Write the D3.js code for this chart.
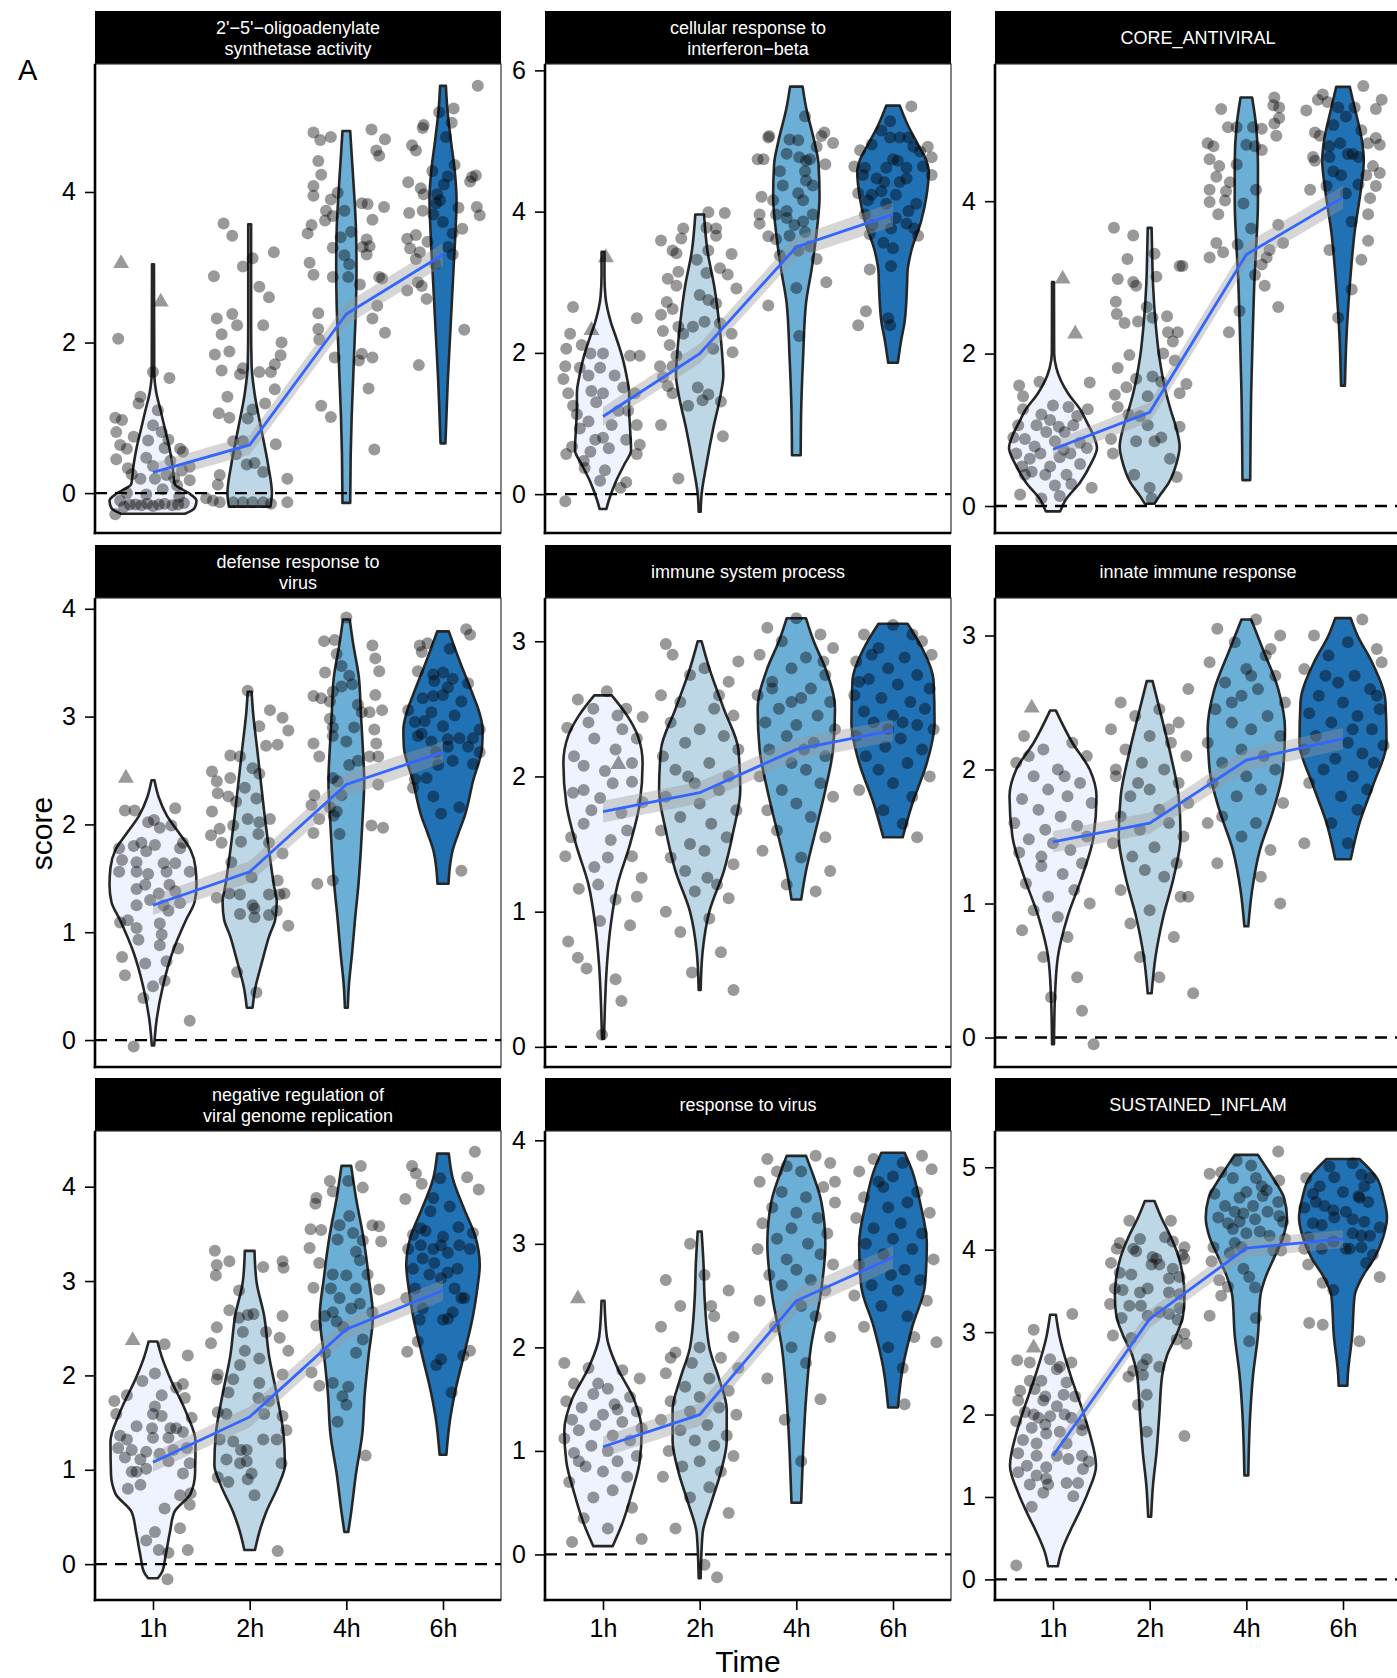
<!DOCTYPE html>
<html><head><meta charset="utf-8">
<script src="https://cdn.jsdelivr.net/npm/d3@7"></script>
<style>body{margin:0;background:#fff}text{font-family:"Liberation Sans",Arial,sans-serif}</style>
</head><body><svg id="c" width="1397" height="1678"></svg>
<script>
const timeLabels=["1h","2h","4h","6h"];
const fills=["#eff3ff","#bdd7e7","#6baed6","#2171b5"];
const titles=[["2'−5'−oligoadenylate","synthetase activity"],["cellular response to","interferon−beta"],["CORE_ANTIVIRAL"],["defense response to","virus"],["immune system process"],["innate immune response"],["negative regulation of","viral genome replication"],["response to virus"],["SUSTAINED_INFLAM"]];
const yDomains=[[-0.53,5.70],[-0.55,6.09],[-0.354,5.80],[-0.25,4.10],[-0.149,3.32],[-0.22,3.28],[-0.38,4.59],[-0.44,4.09],[-0.25,5.44]];
const yTicks=[[0,2,4],[0,2,4,6],[0,2,4],[0,1,2,3,4],[0,1,2,3],[0,1,2,3],[0,1,2,3,4],[0,1,2,3,4],[0,1,2,3,4,5]];
const means=[[0.275,0.64,2.38,3.17],[1.10,1.99,3.5,3.96],[0.745,1.23,3.3,4.05],[1.25,1.56,2.37,2.67],[1.74,1.88,2.2,2.34],[1.46,1.6,2.07,2.23],[1.08,1.56,2.49,2.9],[1.04,1.35,2.45,2.87],[1.5,3.16,4.02,4.13]];
const ses=[[0.12,0.13,0.15,0.15],[0.13,0.14,0.15,0.17],[0.11,0.13,0.15,0.15],[0.09,0.1,0.11,0.1],[0.08,0.08,0.08,0.08],[0.08,0.08,0.08,0.08],[0.1,0.11,0.11,0.11],[0.1,0.11,0.11,0.11],[0.11,0.11,0.11,0.11]];
const triangles=[[[-0.33,3.05],[0.08,2.54]],[[0.03,3.35],[-0.12,2.32]],[[0.1,2.98],[0.23,2.26]],[[-0.28,2.43]],[[0.16,2.09]],[[-0.22,2.46]],[[-0.21,2.37]],[[-0.26,2.47]],[[-0.2,2.81]]];

const violins_p1=[
[[-0.275,0.33],[-0.2,0.43],[-0.1,0.45],[0.0,0.37],[0.12,0.225],[0.38,0.2],[0.6,0.17],[0.85,0.124],[1.09,0.08],[1.33,0.035],[1.6,0.013],[3.04,0.01]],
[[-0.18,0.215],[0.0,0.23],[0.38,0.19],[0.85,0.12],[1.33,0.05],[1.7,0.02],[2.2,0.015],[3.57,0.015]],
[[-0.13,0.04],[0.5,0.045],[1.0,0.055],[1.5,0.07],[2.0,0.085],[2.5,0.1],[3.0,0.105],[3.5,0.1],[4.0,0.08],[4.5,0.055],[4.81,0.04]],
[[0.66,0.025],[1.0,0.035],[1.5,0.05],[2.0,0.07],[2.5,0.09],[3.0,0.11],[3.5,0.13],[3.9,0.14],[4.3,0.12],[4.7,0.08],[5.1,0.045],[5.41,0.03]]];
const points_p1=[
[[-0.36,2.05],[0.0,1.61],[0.17,1.53],[-0.13,1.28],[-0.15,1.19],[-0.39,1.0],[-0.32,0.97],[-0.38,0.81],[-0.34,0.64],[-0.27,0.59],[0.0,0.9],[0.09,0.81],[0.16,0.71],[0.28,0.59],[0.31,0.55],[0.18,0.43],[-0.38,0.45],[-0.26,0.33],[-0.07,0.47],[0.0,0.36],[0.14,0.24],[0.38,0.17],[-0.13,0.19],[0.02,0.19],[-0.27,0.0],[-0.07,-0.02],[0.1,0.05],[0.25,0.1],[-0.39,-0.28],[-0.3,-0.18],[-0.24,-0.15],[-0.18,-0.15],[-0.12,-0.16],[-0.06,-0.14],[0.0,-0.17],[0.06,-0.15],[0.12,-0.14],[0.2,-0.16],[0.26,-0.15],[0.32,-0.13],[-0.34,-0.1],[0.22,0.2],[0.3,0.3],[-0.2,0.75],[0.05,1.1],[0.12,0.6],[-0.05,0.7],[-0.22,0.25],[0.27,-0.05],[0.38,0.35]],
[[-0.27,3.58],[-0.18,3.42],[-0.07,3.01],[0.03,3.12],[0.25,3.2],[-0.37,2.88],[0.1,2.74],[0.2,2.6],[-0.18,2.38],[-0.34,2.32],[-0.13,2.23],[-0.29,2.11],[0.14,2.23],[0.33,2.0],[-0.21,1.88],[-0.36,1.84],[0.32,1.83],[0.26,1.71],[-0.07,1.66],[-0.29,1.63],[-0.1,1.58],[0.1,1.61],[0.22,1.61],[0.26,1.38],[-0.23,1.28],[0.16,1.19],[0.03,1.11],[-0.32,1.06],[-0.21,1.0],[-0.02,0.99],[-0.17,0.69],[-0.07,0.69],[0.27,0.65],[-0.14,0.52],[0.05,0.4],[-0.03,0.38],[0.14,0.28],[-0.31,0.24],[-0.33,0.11],[0.39,0.19],[-0.38,-0.1],[-0.31,-0.12],[-0.17,-0.12],[-0.07,-0.12],[0.03,-0.12],[0.14,-0.12],[0.22,-0.14],[0.39,-0.12],[-0.45,-0.07]],
[[-0.34,4.79],[-0.27,4.69],[-0.16,4.73],[0.26,4.83],[0.4,4.7],[0.31,4.55],[0.34,4.48],[-0.29,4.41],[-0.26,4.23],[-0.34,4.08],[-0.34,3.95],[-0.09,3.99],[-0.16,3.9],[0.16,3.85],[0.22,3.84],[0.39,3.8],[-0.21,3.75],[-0.14,3.68],[-0.22,3.62],[-0.02,3.75],[0.27,3.63],[-0.36,3.56],[-0.4,3.45],[-0.06,3.4],[0.05,3.47],[-0.14,3.26],[0.21,3.37],[0.17,3.27],[0.24,3.28],[0.21,3.17],[-0.02,3.16],[-0.38,3.06],[0.03,3.04],[-0.34,2.9],[-0.14,2.87],[0.02,2.87],[0.14,2.77],[0.34,2.87],[0.37,2.85],[-0.29,2.39],[0.32,2.49],[0.27,2.32],[-0.29,2.18],[0.4,2.13],[-0.28,2.04],[-0.12,1.8],[0.16,1.85],[0.13,1.76],[0.27,1.8],[0.23,1.39],[-0.26,1.16],[-0.16,1.01],[0.29,0.58]],
[[0.36,5.41],[0.11,5.11],[-0.04,5.06],[0.09,4.92],[-0.2,4.89],[-0.21,4.85],[0.03,4.73],[-0.32,4.62],[-0.28,4.55],[-0.11,4.28],[-0.36,4.13],[-0.23,4.05],[-0.2,3.97],[-0.06,3.97],[0.05,4.21],[0.01,4.1],[0.3,4.2],[0.34,4.22],[0.28,4.14],[-0.07,3.85],[-0.03,3.89],[-0.35,3.72],[-0.21,3.75],[0.16,3.79],[0.35,3.8],[0.38,3.69],[0.2,3.51],[0.1,3.45],[-0.37,3.38],[-0.28,3.43],[-0.16,3.34],[-0.24,3.2],[-0.34,3.25],[0.1,3.17],[-0.28,3.11],[-0.08,3.04],[-0.26,2.8],[-0.22,2.75],[-0.17,2.58],[-0.37,2.69],[0.22,2.17],[-0.25,1.7],[0.05,3.27],[0.0,3.6],[-0.1,3.7],[0.12,4.36]]];

const violins_p2=[
[[-0.21,0.035],[-0.09,0.06],[0.17,0.13],[0.42,0.22],[0.62,0.29],[0.93,0.28],[1.2,0.27],[1.43,0.27],[1.7,0.24],[1.94,0.2],[2.2,0.14],[2.44,0.08],[2.8,0.025],[3.1,0.015],[3.43,0.015]],
[[-0.25,0.01],[0.0,0.02],[0.42,0.07],[0.93,0.14],[1.43,0.22],[1.68,0.245],[1.94,0.235],[2.44,0.2],[2.95,0.15],[3.45,0.08],[3.96,0.045]],
[[0.55,0.045],[1.18,0.05],[1.94,0.07],[2.7,0.1],[3.2,0.16],[3.71,0.21],[4.21,0.24],[4.67,0.23],[4.97,0.19],[5.48,0.1],[5.77,0.065]],
[[1.86,0.05],[2.19,0.086],[2.44,0.12],[2.95,0.145],[3.15,0.15],[3.45,0.19],[3.86,0.29],[4.21,0.345],[4.57,0.37],[4.72,0.345],[4.97,0.25],[5.22,0.155],[5.5,0.07]]];
const points_p2=[
[[-0.31,2.65],[-0.34,2.27],[-0.38,2.06],[-0.22,2.11],[-0.13,1.99],[0.0,1.99],[0.35,2.49],[0.28,1.96],[0.38,1.96],[-0.39,1.81],[-0.24,1.79],[-0.03,1.79],[-0.15,1.68],[0.12,1.68],[-0.41,1.63],[-0.36,1.43],[-0.12,1.46],[0.0,1.43],[0.21,1.51],[0.33,1.43],[-0.31,1.25],[-0.07,1.3],[0.16,1.18],[0.26,1.18],[-0.27,1.13],[-0.24,0.93],[-0.08,0.77],[0.0,0.8],[0.24,0.77],[0.35,0.98],[-0.32,0.67],[-0.13,0.6],[0.06,0.65],[0.38,0.7],[-0.38,0.57],[-0.2,0.47],[0.35,0.57],[0.02,0.34],[-0.03,0.19],[0.24,0.17],[-0.39,-0.1],[0.18,0.09],[-0.19,0.37],[0.09,0.98],[-0.15,1.03]],
[[-0.4,3.59],[-0.28,3.45],[-0.17,3.76],[-0.19,3.62],[0.09,3.99],[0.26,3.98],[0.07,3.77],[0.17,3.76],[0.17,3.66],[-0.24,3.41],[0.33,3.4],[-0.03,3.32],[0.09,3.45],[-0.33,3.05],[-0.22,3.15],[0.07,3.13],[0.21,3.2],[0.29,3.11],[0.38,2.91],[-0.24,2.95],[-0.34,2.72],[0.0,2.82],[0.09,2.75],[0.17,2.7],[-0.4,2.54],[-0.28,2.62],[-0.22,2.37],[-0.07,2.37],[0.05,2.44],[0.21,2.42],[-0.38,2.31],[-0.17,2.27],[0.33,2.27],[-0.31,2.11],[-0.24,1.96],[0.14,2.06],[0.34,2.01],[-0.41,1.81],[-0.28,1.81],[-0.38,1.66],[-0.33,1.53],[-0.28,1.43],[-0.02,1.51],[0.09,1.41],[0.03,1.33],[0.22,1.31],[-0.12,1.25],[-0.4,0.98],[0.24,0.82],[-0.22,0.22]],
[[-0.28,5.07],[-0.29,5.05],[-0.07,5.02],[0.02,5.01],[0.09,5.35],[0.29,5.12],[0.26,5.07],[0.38,4.97],[-0.4,4.74],[-0.34,4.74],[-0.1,4.82],[0.03,4.77],[0.14,4.74],[0.21,4.92],[0.3,4.67],[0.09,4.57],[0.1,4.44],[0.17,4.37],[-0.14,4.37],[0.02,4.26],[0.07,4.16],[-0.36,4.21],[-0.21,3.96],[-0.1,3.91],[-0.38,3.96],[-0.38,3.83],[0.07,3.86],[0.17,3.96],[-0.02,3.81],[0.09,3.71],[-0.29,3.65],[-0.21,3.61],[-0.07,3.66],[0.02,3.45],[0.14,3.51],[-0.17,3.38],[0.21,3.33],[0.31,3.0],[0.0,2.92],[-0.29,2.67],[0.03,2.24],[-0.1,4.01],[0.1,4.72],[-0.17,4.57],[-0.24,4.16]],
[[0.19,5.49],[-0.03,5.28],[-0.12,5.15],[-0.03,5.05],[0.07,5.05],[0.16,5.05],[-0.34,4.87],[-0.22,4.95],[0.21,4.92],[0.28,4.85],[0.36,4.92],[0.4,4.77],[-0.4,4.64],[-0.29,4.62],[-0.07,4.62],[0.0,4.74],[0.05,4.72],[0.14,4.62],[0.31,4.64],[0.4,4.52],[-0.31,4.52],[-0.17,4.47],[-0.09,4.42],[0.07,4.42],[0.14,4.47],[-0.36,4.26],[-0.22,4.24],[-0.12,4.29],[0.03,4.24],[-0.26,4.16],[-0.07,4.11],[0.24,4.11],[0.16,4.01],[-0.29,3.96],[0.03,3.91],[-0.21,3.81],[0.14,3.83],[0.22,3.76],[0.26,3.66],[-0.24,3.68],[-0.02,3.76],[-0.1,3.56],[0.0,3.48],[-0.24,3.18],[-0.02,3.23],[-0.28,2.59],[-0.36,2.39],[-0.03,2.39],[-0.05,2.49]]];

const violins_p3=[
[[-0.07,0.075],[0.08,0.13],[0.31,0.28],[0.55,0.39],[0.76,0.455],[0.92,0.42],[1.1,0.35],[1.25,0.29],[1.48,0.155],[1.65,0.08],[1.81,0.035],[2.0,0.012],[2.94,0.01]],
[[0.03,0.05],[0.13,0.1],[0.31,0.2],[0.55,0.275],[0.78,0.31],[1.02,0.275],[1.25,0.22],[1.48,0.17],[1.95,0.1],[2.42,0.06],[2.9,0.035],[3.36,0.025],[3.65,0.02]],
[[0.34,0.04],[1.0,0.045],[1.48,0.05],[2.42,0.07],[3.0,0.085],[3.36,0.1],[4.0,0.12],[4.5,0.12],[5.0,0.1],[5.36,0.06]],
[[1.58,0.02],[2.19,0.035],[2.89,0.07],[3.59,0.12],[4.2,0.19],[4.53,0.215],[4.76,0.2],[5.23,0.12],[5.5,0.07]]];
const points_p3=[
[[-0.35,1.58],[-0.14,1.63],[0.38,1.62],[-0.31,1.44],[-0.31,1.27],[-0.12,1.2],[0.0,1.32],[0.16,1.3],[0.25,1.18],[0.36,1.27],[-0.36,1.06],[-0.17,1.06],[-0.07,0.97],[0.06,1.04],[0.21,1.06],[-0.41,0.9],[-0.29,0.88],[-0.19,0.78],[0.02,0.85],[0.11,0.74],[0.28,0.83],[0.35,0.76],[-0.38,0.69],[-0.13,0.69],[-0.03,0.52],[0.07,0.64],[0.18,0.69],[-0.32,0.52],[-0.22,0.45],[-0.08,0.41],[0.14,0.41],[0.19,0.29],[0.02,0.27],[0.4,0.24],[-0.34,0.15],[-0.12,0.1],[0.07,0.13],[-0.29,0.41],[0.28,0.55],[0.12,0.97],[-0.03,1.13],[-0.24,0.62]],
[[-0.37,3.65],[-0.17,3.55],[-0.23,3.24],[0.05,3.31],[-0.33,2.98],[-0.17,2.94],[-0.14,2.89],[0.07,3.01],[0.34,3.15],[0.31,3.15],[-0.35,2.68],[-0.03,2.61],[-0.34,2.52],[-0.26,2.4],[-0.12,2.42],[0.03,2.47],[0.18,2.49],[0.19,2.28],[0.29,2.28],[0.24,2.16],[-0.21,1.98],[0.14,2.0],[0.26,1.91],[-0.33,1.81],[-0.14,1.67],[0.03,1.7],[0.12,1.63],[0.38,1.6],[-0.36,1.46],[-0.24,1.56],[-0.02,1.44],[0.31,1.48],[-0.33,1.3],[-0.22,1.2],[-0.1,1.18],[-0.02,1.06],[0.31,1.04],[-0.4,0.88],[-0.14,0.85],[0.05,0.85],[0.12,0.9],[-0.38,0.69],[0.28,0.38],[-0.16,0.41],[0.0,0.24],[0.02,0.1],[0.21,0.62]],
[[-0.26,5.21],[0.29,5.36],[0.28,5.26],[0.34,5.23],[0.34,5.09],[-0.19,4.97],[-0.1,4.97],[0.07,4.97],[0.16,4.95],[0.29,5.02],[0.31,4.86],[-0.4,4.76],[-0.34,4.72],[0.0,4.74],[0.09,4.72],[0.16,4.67],[-0.38,4.55],[-0.28,4.46],[-0.1,4.48],[-0.31,4.32],[-0.17,4.25],[-0.38,4.15],[-0.21,4.13],[0.1,4.15],[-0.38,3.99],[-0.22,4.01],[-0.03,3.97],[-0.29,3.83],[0.05,3.64],[0.33,3.69],[-0.31,3.45],[-0.09,3.43],[0.38,3.45],[-0.24,3.33],[0.24,3.36],[-0.38,3.26],[0.16,3.17],[0.09,3.03],[0.19,2.89],[-0.07,2.56],[0.33,2.61],[-0.18,2.28],[0.21,3.26]],
[[0.21,5.51],[-0.21,5.4],[0.4,5.33],[-0.26,5.33],[-0.16,5.3],[0.12,5.23],[-0.38,5.19],[-0.05,5.23],[0.34,5.21],[0.03,5.11],[-0.1,5.0],[-0.29,4.9],[0.19,4.93],[0.34,4.83],[-0.24,4.86],[0.26,4.76],[0.38,4.74],[-0.14,4.72],[-0.03,4.76],[-0.31,4.58],[0.05,4.62],[-0.14,4.58],[0.16,4.58],[-0.29,4.53],[0.31,4.46],[-0.1,4.39],[-0.02,4.34],[0.24,4.34],[0.38,4.37],[0.16,4.22],[0.34,4.2],[-0.34,4.15],[-0.17,4.2],[0.28,4.04],[0.26,3.83],[0.09,3.73],[0.26,3.48],[-0.14,3.36],[0.19,3.23],[0.09,2.84],[-0.05,2.47],[0.03,4.1],[0.1,4.62]]];

const violins_p4=[
[[-0.05,0.012],[0.17,0.035],[0.49,0.1],[0.81,0.2],[1.12,0.345],[1.28,0.43],[1.44,0.45],[1.6,0.44],[1.76,0.39],[1.92,0.27],[2.08,0.145],[2.25,0.06],[2.41,0.015]],
[[0.3,0.03],[0.49,0.06],[0.65,0.105],[0.8,0.15],[0.96,0.2],[1.12,0.265],[1.28,0.28],[1.44,0.25],[1.76,0.2],[2.08,0.155],[2.4,0.115],[2.72,0.075],[3.04,0.035],[3.23,0.02]],
[[0.3,0.015],[0.49,0.025],[0.81,0.06],[1.12,0.09],[1.44,0.125],[1.76,0.15],[2.08,0.17],[2.4,0.185],[2.72,0.17],[3.04,0.15],[3.36,0.13],[3.68,0.07],[3.9,0.035]],
[[1.45,0.057],[1.6,0.07],[1.76,0.1],[1.92,0.16],[2.08,0.225],[2.4,0.31],[2.72,0.405],[2.88,0.41],[3.04,0.375],[3.2,0.31],[3.52,0.17],[3.79,0.06]]];
const points_p4=[
[[-0.29,2.13],[-0.19,2.13],[0.23,2.15],[-0.05,2.02],[0.01,2.04],[0.19,1.99],[0.07,1.97],[-0.35,1.78],[-0.2,1.8],[-0.12,1.83],[0.02,1.81],[0.31,1.83],[0.28,1.78],[-0.32,1.67],[-0.17,1.65],[-0.07,1.75],[0.11,1.64],[0.23,1.64],[-0.35,1.56],[-0.17,1.56],[-0.05,1.54],[0.14,1.56],[0.38,1.56],[-0.08,1.44],[0.06,1.36],[0.17,1.44],[0.23,1.38],[-0.17,1.4],[0.28,1.27],[-0.03,1.3],[0.11,1.25],[-0.17,1.25],[0.16,1.2],[-0.26,1.11],[-0.34,1.09],[0.07,1.08],[-0.17,1.04],[0.09,0.98],[-0.15,0.93],[0.07,0.88],[0.26,0.85],[-0.32,0.77],[-0.08,0.71],[0.14,0.73],[-0.29,0.6],[0.12,0.55],[0.0,0.5],[-0.1,0.39],[0.38,0.18],[-0.2,-0.06]],
[[-0.02,3.24],[0.21,3.06],[0.34,2.99],[0.1,2.91],[0.4,2.87],[0.17,2.73],[0.29,2.74],[-0.2,2.64],[-0.1,2.63],[-0.39,2.49],[-0.34,2.4],[0.03,2.52],[0.1,2.47],[-0.2,2.43],[-0.33,2.29],[-0.22,2.26],[-0.05,2.34],[0.07,2.24],[-0.14,2.21],[-0.39,2.12],[-0.02,2.05],[0.1,2.02],[0.21,2.05],[-0.31,1.96],[-0.17,1.99],[-0.4,1.9],[0.09,1.91],[-0.09,1.84],[0.2,1.83],[-0.29,1.83],[0.34,1.73],[-0.19,1.65],[0.02,1.51],[0.29,1.48],[0.31,1.35],[-0.21,1.36],[-0.1,1.35],[0.03,1.25],[0.2,1.35],[0.36,1.36],[-0.34,1.32],[0.05,1.22],[-0.1,1.17],[0.28,1.2],[0.2,1.16],[0.05,1.14],[0.4,1.06],[-0.13,0.63],[0.07,0.44]],
[[0.0,3.92],[-0.23,3.7],[-0.12,3.71],[0.27,3.66],[-0.1,3.58],[0.3,3.54],[-0.05,3.47],[0.34,3.42],[-0.22,3.41],[0.03,3.38],[0.06,3.3],[-0.05,3.28],[-0.14,3.23],[0.3,3.2],[-0.34,3.19],[-0.26,3.17],[-0.17,3.14],[0.12,3.11],[0.16,3.04],[0.24,3.04],[0.37,3.06],[-0.17,2.98],[-0.14,2.9],[0.08,2.9],[0.29,2.88],[-0.14,2.82],[-0.34,2.75],[0.0,2.77],[0.31,2.75],[-0.28,2.63],[0.24,2.63],[0.12,2.59],[0.33,2.63],[0.03,2.55],[-0.14,2.43],[-0.09,2.4],[0.33,2.37],[-0.33,2.27],[-0.05,2.27],[-0.36,2.18],[-0.17,2.16],[-0.1,2.12],[-0.13,2.08],[-0.28,2.05],[0.26,1.99],[0.38,1.97],[-0.07,1.91],[-0.34,1.92],[-0.3,1.45],[-0.14,1.48]],
[[0.24,3.81],[0.28,3.76],[-0.24,3.66],[-0.16,3.68],[-0.22,3.6],[0.07,3.63],[-0.26,3.42],[-0.1,3.39],[0.0,3.41],[0.1,3.35],[0.26,3.31],[-0.09,3.33],[0.05,3.27],[-0.21,3.17],[-0.1,3.19],[0.0,3.2],[-0.36,3.06],[-0.12,3.04],[0.12,3.01],[0.19,3.14],[-0.29,2.95],[-0.19,2.96],[0.0,2.91],[0.38,2.88],[-0.26,2.82],[-0.12,2.77],[0.05,2.79],[0.17,2.8],[0.31,2.8],[0.05,2.72],[0.38,2.67],[-0.07,2.67],[0.26,2.72],[0.31,2.56],[-0.05,2.55],[-0.29,2.42],[-0.17,2.43],[-0.31,2.34],[-0.1,2.26],[0.17,2.16],[-0.02,2.1],[0.19,1.57],[-0.22,2.84],[0.1,2.59]]];

const violins_p5=[
[[0.06,0.01],[0.3,0.02],[0.6,0.04],[0.9,0.08],[1.2,0.15],[1.5,0.28],[1.8,0.38],[2.1,0.41],[2.3,0.36],[2.45,0.25],[2.6,0.09]],
[[0.42,0.01],[0.7,0.03],[1.0,0.1],[1.3,0.25],[1.6,0.35],[1.9,0.42],[2.2,0.4],[2.5,0.25],[2.8,0.1],[3.0,0.02]],
[[1.09,0.05],[1.3,0.1],[1.6,0.2],[1.9,0.3],[2.2,0.38],[2.5,0.4],[2.8,0.3],[3.0,0.18],[3.17,0.1]],
[[1.55,0.1],[1.8,0.2],[2.1,0.35],[2.4,0.43],[2.7,0.42],[2.95,0.3],[3.13,0.15]]];
const points_p5=[
[[-0.26,2.57],[0.04,2.63],[0.24,2.5],[0.41,2.44],[-0.37,2.36],[-0.09,2.28],[0.13,2.2],[0.35,2.28],[-0.2,2.08],[0.02,2.04],[0.3,1.96],[-0.31,1.88],[-0.03,1.84],[0.19,1.73],[0.41,1.81],[-0.2,1.65],[0.08,1.53],[-0.39,1.41],[-0.09,1.33],[0.3,1.41],[-0.25,1.17],[0.13,1.09],[0.35,1.11],[-0.03,0.93],[-0.36,0.78],[-0.17,0.58],[-0.26,0.66],[0.13,0.5],[-0.01,0.09],[0.19,0.34],[-0.15,2.4],[0.2,2.35],[-0.3,2.15],[0.1,1.95],[-0.12,1.75],[0.25,1.6],[-0.33,1.55],[0.05,1.4],[0.4,1.25],[-0.1,2.5],[0.3,2.1],[-0.2,1.9],[0.15,2.45],[-0.05,1.2],[0.28,0.9]],
[[-0.35,2.98],[0.05,2.8],[-0.1,2.75],[0.3,2.7],[-0.4,2.6],[-0.2,2.55],[0.15,2.5],[0.35,2.45],[-0.3,2.4],[0.0,2.35],[0.25,2.3],[-0.15,2.25],[0.4,2.2],[-0.38,2.15],[0.1,2.1],[-0.25,2.05],[0.3,2.0],[-0.05,1.95],[0.2,1.9],[-0.35,1.85],[0.0,1.8],[0.38,1.75],[-0.2,1.7],[0.12,1.65],[-0.4,1.6],[0.28,1.55],[-0.1,1.5],[0.05,1.45],[-0.3,1.4],[0.35,1.35],[-0.15,1.3],[0.18,1.2],[-0.05,1.15],[0.3,1.1],[-0.35,1.0],[0.1,0.95],[-0.2,0.85],[0.22,0.7],[-0.08,0.55],[0.35,0.42],[0.4,2.85],[-0.28,2.9],[0.2,2.6],[-0.12,2.0],[0.08,1.25]],
[[0.0,3.17],[-0.3,3.1],[0.25,3.05],[-0.15,3.0],[0.38,2.95],[-0.38,2.9],[0.1,2.88],[-0.05,2.8],[0.3,2.75],[-0.25,2.7],[0.15,2.65],[-0.4,2.6],[0.05,2.58],[0.35,2.55],[-0.18,2.5],[0.22,2.45],[-0.32,2.4],[0.0,2.38],[0.4,2.35],[-0.1,2.3],[0.18,2.25],[-0.28,2.2],[0.3,2.15],[-0.05,2.1],[0.1,2.05],[-0.38,2.0],[0.25,1.95],[-0.15,1.9],[0.38,1.85],[0.0,1.8],[-0.3,1.75],[0.15,1.7],[-0.2,1.6],[0.3,1.55],[-0.35,1.45],[0.05,1.4],[0.35,1.3],[-0.1,1.2],[0.2,1.15],[-0.25,2.65],[0.28,2.85],[-0.05,2.55],[0.08,2.2]],
[[0.0,3.12],[-0.3,3.05],[0.3,3.0],[-0.15,2.95],[0.4,2.9],[0.12,2.88],[-0.38,2.85],[-0.05,2.8],[0.25,2.75],[-0.25,2.72],[0.05,2.68],[0.38,2.65],[-0.4,2.6],[-0.12,2.58],[0.18,2.55],[0.33,2.5],[-0.3,2.48],[0.0,2.45],[-0.2,2.4],[0.25,2.38],[0.42,2.35],[-0.38,2.3],[0.08,2.28],[-0.08,2.22],[0.3,2.2],[-0.28,2.15],[0.15,2.1],[-0.15,2.05],[0.38,2.0],[0.0,1.95],[-0.35,1.9],[0.2,1.85],[-0.1,1.75],[0.1,1.65],[0.25,1.55],[-0.22,2.9],[0.2,3.05],[-0.05,2.35],[0.1,2.4],[-0.35,2.7]]];

const violins_p6=[
[[-0.05,0.01],[0.3,0.02],[0.6,0.05],[0.9,0.15],[1.2,0.3],[1.5,0.42],[1.8,0.45],[2.0,0.38],[2.2,0.2],[2.44,0.03]],
[[0.33,0.02],[0.6,0.06],[0.9,0.14],[1.2,0.25],[1.5,0.32],[1.8,0.3],[2.1,0.22],[2.4,0.12],[2.66,0.03]],
[[0.83,0.02],[1.1,0.06],[1.4,0.14],[1.7,0.28],[2.0,0.38],[2.3,0.4],[2.6,0.33],[2.9,0.17],[3.12,0.05]],
[[1.33,0.08],[1.6,0.17],[1.9,0.32],[2.2,0.45],[2.5,0.44],[2.8,0.3],[3.0,0.15],[3.13,0.08]]];
const points_p6=[
[[-0.3,2.25],[0.2,2.2],[-0.1,2.15],[0.35,2.1],[-0.38,2.05],[0.05,2.0],[-0.2,1.95],[0.28,1.9],[-0.05,1.85],[0.15,1.8],[-0.32,1.78],[0.4,1.75],[-0.15,1.7],[0.08,1.65],[-0.4,1.6],[0.25,1.58],[-0.08,1.55],[0.35,1.5],[-0.25,1.48],[0.0,1.45],[0.18,1.4],[-0.35,1.38],[0.3,1.3],[-0.12,1.28],[0.1,1.22],[-0.28,1.15],[0.22,1.1],[-0.05,1.05],[0.38,1.0],[-0.2,0.95],[0.05,0.9],[-0.32,0.8],[0.15,0.75],[-0.1,0.6],[0.25,0.45],[-0.02,0.3],[0.3,0.2],[-0.25,2.1],[0.12,1.95],[0.42,-0.05],[-0.12,1.35]],
[[0.4,2.6],[-0.3,2.5],[0.1,2.45],[-0.15,2.4],[0.3,2.35],[-0.4,2.3],[0.0,2.25],[0.22,2.2],[-0.25,2.15],[0.38,2.1],[-0.08,2.05],[0.15,2.0],[-0.35,1.95],[0.3,1.9],[0.0,1.85],[-0.2,1.8],[0.4,1.75],[0.1,1.7],[-0.3,1.65],[0.2,1.6],[-0.1,1.55],[0.35,1.5],[-0.38,1.45],[0.05,1.42],[-0.18,1.35],[0.28,1.3],[-0.05,1.25],[0.15,1.2],[-0.3,1.1],[0.4,1.05],[0.0,0.95],[-0.2,0.85],[0.25,0.75],[-0.1,0.6],[0.1,0.45],[0.45,0.33],[-0.35,2.0],[0.2,2.3],[-0.12,1.9],[0.32,1.05]],
[[0.1,3.12],[-0.3,3.05],[0.35,3.0],[-0.12,2.95],[0.2,2.85],[-0.38,2.8],[0.0,2.75],[0.3,2.7],[-0.22,2.65],[0.12,2.6],[-0.05,2.55],[0.4,2.5],[-0.32,2.45],[0.22,2.4],[-0.15,2.35],[0.05,2.3],[0.35,2.25],[-0.4,2.2],[-0.05,2.15],[0.18,2.1],[-0.25,2.05],[0.3,2.0],[0.0,1.95],[-0.35,1.9],[0.15,1.85],[-0.1,1.8],[0.38,1.75],[-0.25,1.65],[0.1,1.6],[-0.05,1.5],[0.25,1.4],[-0.3,1.3],[0.15,1.2],[0.35,1.0],[-0.15,2.5],[0.25,2.9],[-0.4,1.6],[0.05,2.7]],
[[0.2,3.12],[-0.3,3.0],[0.05,2.95],[0.35,2.9],[-0.15,2.85],[0.4,2.8],[-0.4,2.75],[0.12,2.7],[-0.05,2.65],[0.28,2.6],[-0.25,2.55],[0.0,2.5],[0.38,2.45],[-0.35,2.42],[0.15,2.4],[-0.12,2.35],[0.3,2.3],[-0.28,2.25],[0.05,2.2],[0.42,2.18],[-0.4,2.15],[0.2,2.12],[-0.08,2.08],[0.32,2.05],[-0.2,2.0],[0.1,1.95],[-0.35,1.9],[0.25,1.85],[-0.02,1.8],[0.15,1.7],[-0.12,1.6],[0.05,1.45],[-0.4,1.45],[0.35,2.55],[-0.18,2.7],[0.1,2.3]]];

const violins_p7=[
[[-0.15,0.05],[-0.08,0.095],[0.09,0.13],[0.34,0.175],[0.55,0.22],[0.75,0.39],[0.96,0.435],[1.3,0.44],[1.59,0.35],[2.0,0.165],[2.2,0.09],[2.36,0.045]],
[[0.15,0.055],[0.34,0.1],[0.55,0.17],[0.84,0.3],[1.05,0.365],[1.38,0.35],[1.8,0.28],[2.21,0.2],[2.63,0.15],[3.0,0.07],[3.32,0.05]],
[[0.34,0.02],[0.55,0.05],[0.96,0.1],[1.38,0.165],[1.8,0.19],[2.21,0.23],[2.63,0.275],[3.05,0.23],[3.26,0.205],[3.47,0.175],[3.88,0.1],[4.22,0.05]],
[[1.16,0.035],[1.51,0.07],[1.8,0.12],[2.21,0.215],[2.63,0.31],[2.92,0.355],[3.17,0.38],[3.47,0.335],[3.76,0.22],[4.09,0.1],[4.35,0.06]]];
const points_p7=[
[[0.12,2.33],[0.36,2.21],[0.02,2.02],[-0.11,1.94],[0.31,1.91],[-0.27,1.79],[0.09,1.79],[0.24,1.87],[-0.4,1.73],[0.33,1.76],[0.02,1.67],[-0.38,1.59],[0.0,1.59],[0.09,1.57],[0.4,1.55],[-0.17,1.46],[-0.01,1.44],[0.18,1.44],[0.24,1.44],[-0.34,1.36],[-0.27,1.32],[0.0,1.34],[0.16,1.34],[0.31,1.4],[-0.36,1.23],[-0.22,1.21],[-0.07,1.19],[0.07,1.17],[0.21,1.21],[0.35,1.23],[-0.29,1.13],[-0.13,1.11],[0.16,1.09],[0.38,1.07],[-0.22,0.98],[-0.17,0.98],[-0.07,1.01],[0.31,0.96],[-0.26,0.8],[-0.13,0.84],[0.28,0.73],[0.39,0.75],[0.38,0.63],[0.12,0.59],[0.28,0.38],[0.02,0.34],[-0.07,0.25],[0.06,0.15],[0.16,0.12],[0.36,0.15],[0.15,-0.16]],
[[-0.36,3.32],[-0.34,3.17],[-0.21,3.21],[-0.35,3.06],[0.14,3.15],[0.34,3.21],[0.35,3.14],[-0.11,2.9],[-0.21,2.69],[-0.11,2.61],[-0.02,2.64],[0.04,2.65],[0.34,2.63],[-0.34,2.51],[-0.07,2.46],[0.17,2.46],[0.31,2.4],[0.4,2.26],[-0.4,2.34],[-0.05,2.26],[0.1,2.18],[-0.1,2.11],[-0.33,2.01],[0.34,2.01],[-0.17,1.96],[-0.34,1.96],[0.1,1.92],[-0.22,1.82],[0.2,1.73],[0.09,1.76],[-0.33,1.61],[-0.24,1.59],[0.15,1.59],[0.34,1.57],[0.38,1.42],[-0.31,1.32],[-0.17,1.3],[0.14,1.32],[0.28,1.32],[-0.03,1.21],[-0.09,1.21],[-0.24,1.11],[0.33,1.07],[-0.1,1.07],[-0.03,1.09],[-0.33,0.92],[-0.22,0.87],[0.02,0.96],[-0.02,0.9],[0.05,0.73],[0.29,0.14]],
[[0.15,4.22],[-0.17,4.06],[0.02,4.06],[0.17,3.99],[-0.31,3.88],[-0.32,3.82],[-0.14,3.95],[0.03,3.69],[-0.37,3.55],[-0.26,3.54],[-0.07,3.59],[0.07,3.51],[0.27,3.59],[0.34,3.58],[0.17,3.43],[0.36,3.42],[-0.09,3.44],[-0.38,3.35],[0.1,3.31],[0.14,3.22],[-0.28,3.19],[-0.14,3.07],[0.0,3.06],[0.22,3.07],[-0.34,2.93],[-0.16,2.92],[0.1,2.92],[0.34,2.91],[-0.07,2.82],[0.14,2.76],[0.05,2.71],[-0.14,2.67],[-0.22,2.63],[-0.1,2.57],[0.27,2.67],[-0.31,2.53],[-0.03,2.51],[0.17,2.38],[-0.22,2.24],[0.1,2.24],[-0.36,2.03],[-0.14,1.92],[-0.28,1.89],[0.02,1.88],[-0.04,1.78],[-0.09,1.51],[0.2,1.15],[0.0,1.69]],
[[0.33,4.37],[-0.32,4.22],[-0.28,4.14],[-0.22,4.03],[-0.03,4.09],[0.25,4.1],[0.37,3.97],[-0.39,3.87],[-0.1,3.88],[0.07,3.79],[-0.13,3.74],[0.16,3.57],[-0.23,3.56],[-0.18,3.53],[-0.31,3.49],[0.0,3.47],[0.31,3.51],[-0.36,3.34],[-0.23,3.38],[-0.1,3.34],[-0.02,3.38],[0.05,3.3],[0.17,3.38],[0.28,3.34],[-0.21,3.24],[-0.09,3.19],[0.05,3.09],[0.15,3.13],[-0.31,3.13],[-0.14,3.07],[-0.02,3.03],[0.12,2.92],[-0.29,2.92],[-0.38,2.82],[0.19,2.82],[0.22,2.82],[-0.21,2.71],[-0.24,2.59],[0.0,2.59],[0.05,2.6],[0.1,2.67],[-0.26,2.36],[-0.37,2.25],[0.28,2.26],[0.21,2.21],[-0.07,2.11],[-0.02,2.17],[0.09,1.82]]];

const violins_p8=[
[[0.08,0.1],[0.3,0.2],[0.6,0.3],[0.9,0.38],[1.2,0.4],[1.5,0.32],[1.8,0.15],[2.1,0.04],[2.45,0.015]],
[[-0.23,0.01],[0.2,0.03],[0.5,0.12],[0.8,0.22],[1.1,0.28],[1.4,0.28],[1.7,0.2],[2.0,0.1],[2.5,0.05],[2.8,0.04],[3.12,0.02]],
[[0.5,0.05],[1.0,0.07],[1.5,0.1],[2.0,0.15],[2.5,0.25],[3.0,0.3],[3.4,0.26],[3.7,0.16],[3.85,0.1]],
[[1.42,0.05],[1.8,0.1],[2.2,0.2],[2.6,0.33],[3.0,0.35],[3.4,0.28],[3.7,0.2],[3.88,0.12]]];
const points_p8=[
[[-0.4,1.85],[-0.15,1.8],[0.2,1.78],[0.38,1.7],[-0.3,1.65],[0.05,1.6],[-0.1,1.55],[0.28,1.52],[-0.38,1.48],[0.12,1.45],[-0.22,1.42],[0.35,1.38],[0.0,1.35],[-0.32,1.3],[0.2,1.28],[-0.08,1.25],[0.4,1.22],[-0.25,1.2],[0.1,1.15],[-0.4,1.12],[0.28,1.1],[-0.12,1.05],[0.05,1.0],[-0.3,0.98],[0.35,0.95],[0.15,0.9],[-0.18,0.85],[0.0,0.8],[0.25,0.75],[-0.35,0.7],[0.1,0.62],[-0.1,0.55],[0.3,0.45],[-0.2,0.35],[0.05,0.25],[-0.32,0.12],[0.4,0.15],[-0.05,1.65],[0.15,1.4],[-0.25,0.9]],
[[-0.1,3.0],[0.05,2.7],[-0.35,2.65],[0.3,2.55],[-0.2,2.4],[0.15,2.3],[-0.4,2.2],[0.35,2.1],[0.0,2.0],[-0.25,1.95],[0.22,1.9],[-0.08,1.85],[0.4,1.8],[-0.35,1.75],[0.1,1.7],[-0.15,1.62],[0.3,1.58],[0.0,1.52],[-0.3,1.48],[0.2,1.42],[-0.1,1.38],[0.38,1.35],[-0.4,1.3],[0.08,1.25],[-0.2,1.2],[0.28,1.15],[-0.05,1.1],[0.15,1.05],[-0.32,1.0],[0.35,0.95],[0.0,0.9],[-0.18,0.85],[0.22,0.8],[-0.38,0.75],[0.1,0.65],[-0.1,0.55],[0.3,0.4],[-0.25,0.25],[0.05,-0.1],[0.18,-0.22],[-0.3,1.9],[0.12,2.4]],
[[0.2,3.85],[-0.3,3.82],[0.35,3.78],[-0.1,3.75],[0.05,3.7],[-0.38,3.6],[0.28,3.55],[-0.15,3.5],[0.1,3.45],[0.4,3.4],[-0.25,3.35],[0.0,3.3],[0.22,3.25],[-0.35,3.2],[-0.05,3.15],[0.32,3.1],[-0.2,3.05],[0.12,3.0],[-0.4,2.95],[0.25,2.9],[-0.1,2.85],[0.38,2.8],[0.0,2.75],[-0.28,2.7],[0.15,2.65],[-0.15,2.6],[0.3,2.55],[-0.38,2.45],[0.05,2.4],[0.2,2.3],[-0.22,2.2],[0.35,2.1],[-0.05,2.0],[0.1,1.85],[-0.3,1.7],[0.25,1.5],[-0.12,1.3],[0.05,0.9],[0.4,3.6],[-0.2,3.7]],
[[0.3,3.85],[-0.2,3.82],[0.1,3.78],[-0.35,3.7],[0.4,3.72],[0.0,3.65],[-0.1,3.55],[0.25,3.5],[-0.3,3.45],[0.15,3.4],[-0.05,3.35],[0.38,3.3],[-0.38,3.25],[0.08,3.2],[-0.2,3.15],[0.3,3.1],[0.0,3.05],[-0.28,3.0],[0.2,2.95],[-0.1,2.9],[0.42,2.85],[-0.35,2.8],[0.12,2.75],[-0.02,2.7],[0.28,2.65],[-0.22,2.6],[0.05,2.55],[-0.4,2.5],[0.35,2.45],[-0.12,2.4],[0.15,2.3],[-0.3,2.2],[0.22,2.1],[-0.05,2.0],[0.1,1.8],[0.12,1.45],[0.45,2.05],[-0.15,3.6]]];

const violins_p9=[
[[0.16,0.05],[0.33,0.085],[0.57,0.17],[0.81,0.27],[1.05,0.36],[1.38,0.445],[1.77,0.38],[2.0,0.32],[2.48,0.18],[2.96,0.065],[3.21,0.03]],
[[0.76,0.015],[1.15,0.035],[1.53,0.07],[2.0,0.1],[2.48,0.13],[2.72,0.18],[2.96,0.275],[3.2,0.345],[3.44,0.36],[3.67,0.345],[3.91,0.3],[4.15,0.22],[4.39,0.12],[4.59,0.05]],
[[1.26,0.02],[1.53,0.025],[2.0,0.04],[2.48,0.07],[2.96,0.12],[3.44,0.145],[3.67,0.2],[3.91,0.29],[4.15,0.38],[4.39,0.42],[4.63,0.39],[4.87,0.275],[5.15,0.12]],
[[2.35,0.045],[2.48,0.05],[2.96,0.095],[3.44,0.12],[3.67,0.2],[3.91,0.33],[4.15,0.415],[4.39,0.455],[4.63,0.42],[4.87,0.35],[5.1,0.17]]];
const points_p9=[
[[0.2,3.22],[-0.2,3.03],[-0.37,2.66],[-0.24,2.63],[-0.03,2.67],[0.07,2.58],[0.19,2.63],[-0.24,2.41],[-0.12,2.41],[0.04,2.55],[0.14,2.39],[-0.34,2.29],[-0.19,2.31],[-0.08,2.22],[0.11,2.24],[0.23,2.22],[-0.36,2.17],[-0.1,2.17],[0.04,2.1],[-0.29,2.03],[-0.2,2.0],[-0.15,1.96],[-0.03,1.98],[0.12,2.0],[0.19,1.96],[0.3,1.88],[-0.38,1.92],[-0.22,1.84],[-0.08,1.88],[0.07,1.79],[-0.07,1.77],[0.3,1.81],[-0.31,1.69],[-0.17,1.65],[0.14,1.65],[-0.36,1.53],[-0.17,1.5],[0.04,1.5],[0.3,1.5],[-0.27,1.38],[-0.07,1.36],[0.16,1.46],[0.37,1.43],[-0.36,1.3],[-0.17,1.26],[0.31,1.34],[-0.07,1.22],[-0.24,1.15],[-0.1,1.05],[0.14,1.17],[0.26,1.17],[-0.05,1.15],[0.21,1.01],[-0.22,0.88],[-0.38,0.17]],
[[-0.21,4.35],[0.22,4.35],[-0.31,4.08],[-0.1,4.13],[0.16,4.15],[0.24,4.1],[0.36,4.03],[-0.34,4.01],[-0.17,4.01],[-0.14,3.98],[0.03,3.91],[0.07,3.89],[0.34,3.94],[0.36,3.89],[-0.4,3.84],[0.02,3.82],[0.1,3.82],[0.24,3.77],[-0.31,3.72],[-0.19,3.7],[0.2,3.65],[0.31,3.67],[-0.36,3.53],[-0.28,3.51],[-0.1,3.48],[-0.02,3.53],[0.2,3.48],[0.31,3.46],[-0.41,3.34],[-0.21,3.32],[-0.09,3.32],[0.1,3.24],[0.31,3.29],[-0.29,3.17],[-0.02,3.2],[0.2,3.22],[0.29,3.15],[-0.38,2.96],[-0.19,2.93],[0.36,2.98],[0.38,2.86],[0.28,2.91],[-0.03,2.67],[-0.07,2.6],[0.1,2.58],[-0.17,2.53],[-0.07,2.48],[-0.22,2.46],[-0.03,2.24],[-0.12,2.12],[-0.03,1.79],[0.36,1.74]],
[[0.33,5.19],[-0.1,5.08],[0.05,5.02],[-0.38,4.92],[-0.26,4.94],[-0.14,4.87],[0.1,4.87],[0.34,4.84],[0.16,4.77],[0.21,4.72],[0.0,4.7],[0.17,4.65],[-0.33,4.68],[-0.07,4.63],[-0.22,4.53],[0.33,4.58],[0.07,4.53],[-0.12,4.46],[-0.03,4.44],[0.22,4.46],[-0.29,4.39],[0.34,4.41],[-0.19,4.32],[-0.07,4.34],[0.09,4.37],[0.38,4.34],[-0.14,4.25],[0.0,4.2],[0.14,4.22],[0.24,4.17],[0.4,4.13],[-0.34,4.03],[-0.12,4.08],[-0.05,4.03],[-0.17,3.96],[0.28,3.99],[0.36,3.99],[-0.03,3.77],[0.03,3.67],[-0.28,3.63],[-0.19,3.55],[-0.36,3.86],[0.09,3.54],[-0.26,3.44],[0.1,3.17],[-0.38,3.2],[0.03,2.89]],
[[0.1,5.05],[-0.14,5.01],[-0.38,4.87],[-0.09,4.88],[0.19,4.91],[0.28,4.87],[-0.24,4.77],[0.22,4.77],[0.0,4.7],[-0.31,4.68],[0.16,4.65],[-0.28,4.58],[-0.4,4.51],[-0.19,4.53],[0.17,4.63],[0.26,4.58],[-0.1,4.48],[0.03,4.46],[-0.09,4.39],[0.1,4.37],[-0.31,4.32],[0.22,4.34],[-0.22,4.3],[0.38,4.27],[0.1,4.2],[0.19,4.17],[0.28,4.17],[-0.36,4.15],[-0.1,4.1],[0.03,4.01],[0.19,4.03],[-0.4,4.01],[-0.22,4.01],[0.31,3.94],[0.24,3.84],[-0.36,3.82],[-0.21,3.6],[-0.1,3.51],[0.38,3.67],[-0.35,3.11],[-0.21,3.09],[0.17,2.89],[0.07,4.01]]];

const violinSets=[violins_p1,violins_p2,violins_p3,violins_p4,violins_p5,violins_p6,violins_p7,violins_p8,violins_p9];
const pointSets=[points_p1,points_p2,points_p3,points_p4,points_p5,points_p6,points_p7,points_p8,points_p9];

const svg=d3.select("#c");
const colLeft=[95,545,995], rowTop=[11,545,1078], W=406, SH=53, PH=469;
const FONT='"Liberation Sans",Arial,sans-serif';

for(let p=0;p<9;p++){
  const col=p%3,row=Math.floor(p/3);
  const L=colLeft[col], ST=rowTop[row], T=ST+SH, B=T+PH;
  const x=d3.scaleLinear().domain([0.4,4.6]).range([L,L+W]);
  const y=d3.scaleLinear().domain(yDomains[p]).range([B,T]);
  const g=svg.append("g");
  g.append("rect").attr("x",L).attr("y",ST).attr("width",W).attr("height",SH).attr("fill","#000");
  const tl=titles[p];
  tl.forEach((t,i)=>g.append("text").attr("x",L+W/2).attr("y",ST+SH/2+0.5+(i-(tl.length-1)/2)*21)
    .attr("dy","0.35em").attr("text-anchor","middle").attr("fill","#fff").attr("font-size",18).text(t));
  g.append("rect").attr("x",L).attr("y",T).attr("width",W).attr("height",PH).attr("fill","#fff").attr("stroke","#333").attr("stroke-width",1.2);
  const cid="clip"+p;
  svg.append("clipPath").attr("id",cid).append("rect").attr("x",L).attr("y",T).attr("width",W).attr("height",PH);
  const pg=g.append("g").attr("clip-path",`url(#${cid})`);
  violinSets[p].forEach((prof,i)=>{
    const c=i+1;
    const area=d3.area().curve(d3.curveMonotoneY).y(d=>y(d[0])).x0(d=>x(c-d[1])).x1(d=>x(c+d[1]));
    pg.append("path").attr("d",area(prof)).attr("fill",fills[i]).attr("stroke","#262626").attr("stroke-width",2.6).attr("stroke-linejoin","round");
  });
  pg.append("line").attr("x1",L).attr("x2",L+W).attr("y1",y(0)).attr("y2",y(0)).attr("stroke","#000").attr("stroke-width",2.3).attr("stroke-dasharray","12,8");
  pointSets[p].forEach((pts,i)=>{
    pg.selectAll(null).data(pts).enter().append("circle").attr("cx",d=>x(i+1+d[0])).attr("cy",d=>y(d[1])).attr("r",6).attr("fill","#000").attr("fill-opacity",0.4);
  });
  pg.selectAll(null).data(triangles[p]).enter().append("path").attr("d",d3.symbol(d3.symbolTriangle,110)())
    .attr("transform",d=>`translate(${x(1+d[0])},${y(d[1])})`).attr("fill","#000").attr("fill-opacity",0.4);
  const idx=[0,1,2,3];
  pg.append("path").attr("d",d3.area().x(i=>x(i+1)).y0(i=>y(means[p][i]-ses[p][i])).y1(i=>y(means[p][i]+ses[p][i]))(idx)).attr("fill","#999").attr("fill-opacity",0.4);
  pg.append("path").attr("d",d3.line().x(i=>x(i+1)).y(i=>y(means[p][i]))(idx)).attr("fill","none").attr("stroke","#3366FF").attr("stroke-width",2.8);
  const ya=g.append("g").attr("transform",`translate(${L},0)`).call(d3.axisLeft(y).tickValues(yTicks[p]).tickSize(10).tickPadding(9).tickFormat(d3.format("d")));
  ya.select(".domain").remove();
  ya.selectAll(".tick line").attr("stroke","#000").attr("stroke-width",1.6);
  ya.selectAll(".tick text").attr("font-size",25).attr("fill","#000").attr("font-family",FONT);
  if(row===2){
    const xa=g.append("g").attr("transform",`translate(0,${B})`).call(d3.axisBottom(x).tickValues([1,2,3,4]).tickSize(10).tickPadding(9).tickFormat((d,i)=>timeLabels[i]));
    xa.select(".domain").remove();
    xa.selectAll(".tick line").attr("stroke","#000").attr("stroke-width",1.6);
    xa.selectAll(".tick text").attr("font-size",25).attr("fill","#000").attr("font-family",FONT);
  }
  g.append("line").attr("x1",L).attr("x2",L).attr("y1",T).attr("y2",B+1.3).attr("stroke","#000").attr("stroke-width",2.6);
  g.append("line").attr("x1",L-1.3).attr("x2",L+W).attr("y1",B).attr("y2",B).attr("stroke","#000").attr("stroke-width",2.6);
}
svg.append("text").attr("x",18).attr("y",80).attr("font-size",29).attr("fill","#000").text("A");
svg.append("text").attr("transform","translate(52,833.5) rotate(-90)").attr("text-anchor","middle").attr("font-size",30).attr("fill","#000").text("score");
svg.append("text").attr("x",748).attr("y",1672).attr("text-anchor","middle").attr("font-size",30).attr("fill","#000").text("Time");
</script></body></html>
